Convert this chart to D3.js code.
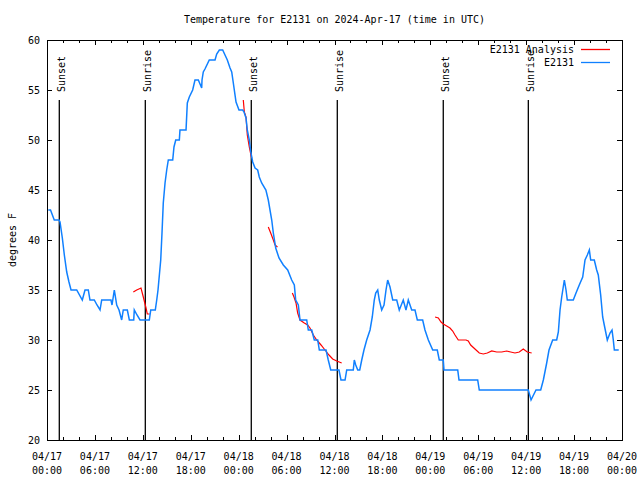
<!DOCTYPE html>
<html><head><meta charset="utf-8">
<script src="https://cdn.jsdelivr.net/npm/d3@7"></script>
<style>
body{margin:0;background:#fff}
text{font-family:"DejaVu Sans Mono",monospace;font-size:10px;fill:#000}
</style>
</head><body><svg id="c" width="640" height="480"></svg>
<script>
// ---- data (hours since 2024-04-17 00:00 UTC, degrees F) ----
const obsHours = [0.16,0.44,0.91,1.50,1.63,1.92,2.17,2.47,2.75,3.01,3.72,4.42,4.76,5.17,5.38,5.92,6.26,6.64,6.85,8.01,8.14,8.43,8.73,9.02,9.35,9.55,10.06,10.31,10.86,10.93,11.27,11.65,12.81,12.99,13.56,13.74,13.90,14.24,14.40,14.56,14.78,14.99,15.19,15.74,15.90,16.12,16.57,16.65,17.41,17.57,17.82,18.24,18.53,18.95,19.37,19.41,19.57,19.78,20.32,21.04,21.25,21.58,22.00,22.29,22.58,22.92,23.13,23.33,23.67,24.04,24.51,24.67,24.92,25.08,25.33,25.54,25.76,26.05,26.38,26.58,26.88,27.41,27.71,28.14,28.34,28.64,29.05,29.59,30.14,30.64,30.97,31.14,31.47,31.68,32.52,32.72,33.15,33.47,33.90,34.10,34.94,35.22,35.53,36.56,36.81,37.32,37.53,38.35,38.48,38.66,38.91,39.16,39.41,39.69,40.03,40.45,40.73,40.98,41.16,41.41,41.61,41.91,42.20,42.45,42.66,42.95,43.29,43.79,44.11,44.61,44.95,45.24,45.67,46.08,46.37,47.04,47.33,47.75,48.30,48.87,49.12,49.62,49.71,51.43,51.59,53.93,54.13,60.27,60.61,61.23,61.82,62.15,62.57,62.86,63.32,63.82,64.03,64.24,64.45,64.78,64.99,65.15,65.90,66.24,66.65,67.08,67.37,67.66,67.91,68.08,68.53,68.83,69.03,69.33,69.58,69.78,70.16,70.50,70.75,70.91,71.04,71.59];
const obsTemps = [43,43,42,42,41.8,40.2,38.5,36.8,35.8,35,35,34,35,35,34,34,33.5,33,34,34,33.5,35,33.5,33,32,33,33,32,32,33,32.5,32,32,33,33,34,35,38,40.7,43.7,45.7,47,48,48,49.3,50,50,51,51,53.7,54.3,55,56,56,55.2,56,56.8,57.1,58,58,58.6,59,59,58.5,58,57.2,56.8,55.7,53.8,53,53,52.8,52.2,51,50,48.7,47.8,47.2,47,46.3,45.7,45,44,42,40.7,39.2,38.2,37.5,37,36,35.5,34,33.5,32,32,31,31,30,30,29,29,28,27,27,26,26,27,27,28,27.5,27,27,28,29,30,31,32.3,34,34.7,35,34,33,33.5,35,36,35.3,34,34,33,34,33,34,33,33,32,32,31,30,29,29,28,28,27,27,26,26,25,25,24,25,25,26,27.7,29,30,30,30.8,33,34.3,36,35,34,34,34.7,35.5,36.3,38,38.5,39,38,38,37,36.5,34.5,32.3,31.5,30,30.7,31,30,29,29];
const anaHours = [10.81,11.23,11.77,12.06,12.40,12.56,12.86,null,
  24.58,24.71,24.92,25.08,25.33,25.54,25.63,null,
  27.71,28.01,28.34,28.55,28.86,null,
  30.72,30.93,31.18,31.39,31.68,32.22,32.64,32.93,33.35,33.77,34.31,34.81,35.31,35.77,36.28,36.90,null,
  48.59,49.00,49.34,49.62,50.05,50.46,50.80,51.09,51.50,51.93,52.47,52.75,53.05,53.59,54.13,54.63,55.13,55.69,56.31,56.94,57.56,58.06,58.60,59.14,59.64,60.14,60.69];
const anaTemps = [34.8,35,35.2,34.3,33.2,32.6,32.6,null,
  54,52.8,52.3,50.5,49.3,48.5,48.2,null,
  41.3,40.7,40,39.5,39.3,null,
  34.7,34.3,33.7,32.7,32,31.7,31.5,31.2,30.5,30,29.5,29,28.5,28.1,27.9,27.7,null,
  32.3,32.2,31.8,31.6,31.4,31.2,30.9,30.5,30,30,30,29.9,29.5,29.1,28.7,28.6,28.7,28.9,28.8,28.8,28.9,28.8,28.7,28.8,29.1,28.8,28.7];
const sunHours = [1.54,12.31,25.58,36.35,49.62,60.27];
const sunLabels = ["Sunset","Sunrise","Sunset","Sunrise","Sunset","Sunrise"];
const yTicks = [20,25,30,35,40,45,50,55,60];
const xTickHours = [0,6,12,18,24,30,36,42,48,54,60,66,72];
const xTickDates = ["04/17","04/17","04/17","04/17","04/18","04/18","04/18","04/18","04/19","04/19","04/19","04/19","04/20"];
const xTickTimes = ["00:00","06:00","12:00","18:00","00:00","06:00","12:00","18:00","00:00","06:00","12:00","18:00","00:00"];
const minorHours = d3.range(0,73,2).filter(h => h % 6 !== 0);
const seriesNames = ["E2131 Analysis","E2131"];
const seriesColors = ["#ff0000","#1080ff"];
const titleText = "Temperature for E2131 on 2024-Apr-17 (time in UTC)";
const yLabel = "degrees F";

// ---- layout ----
const L = 47, R = 622, T = 40, B = 440;
const svg = d3.select("#c");
const x = d3.scaleLinear().domain([0,72]).range([L,R]);
const y = d3.scaleLinear().domain([20,60]).range([B,T]);

// axes with inward ticks
const gB = svg.append("g").attr("transform",`translate(0,${B})`)
  .call(d3.axisBottom(x).tickValues(xTickHours).tickSizeInner(-5).tickSizeOuter(0).tickFormat(""));
const gBm = svg.append("g").attr("transform",`translate(0,${B})`)
  .call(d3.axisBottom(x).tickValues(minorHours).tickSizeInner(-3).tickSizeOuter(0).tickFormat(""));
const gT = svg.append("g").attr("transform",`translate(0,${T})`)
  .call(d3.axisTop(x).tickValues(xTickHours).tickSizeInner(-5).tickSizeOuter(0).tickFormat(""));
const gTm = svg.append("g").attr("transform",`translate(0,${T})`)
  .call(d3.axisTop(x).tickValues(minorHours).tickSizeInner(-3).tickSizeOuter(0).tickFormat(""));
const gL = svg.append("g").attr("transform",`translate(${L},0)`)
  .call(d3.axisLeft(y).tickValues(yTicks).tickSizeInner(-5).tickSizeOuter(0).tickFormat(""));
const gR = svg.append("g").attr("transform",`translate(${R},0)`)
  .call(d3.axisRight(y).tickValues(yTicks).tickSizeInner(-5).tickSizeOuter(0).tickFormat(""));
[gB,gBm,gT,gTm,gL,gR].forEach(g=>{
  g.select(".domain").remove();
  g.selectAll("line").attr("stroke","#000").attr("shape-rendering","crispEdges");
});

// tick labels
svg.append("g").selectAll("text").data(yTicks).join("text")
  .attr("x", L-7).attr("y", d=>y(d)+3.5).attr("text-anchor","end").text(d=>d);
const xl = svg.append("g").selectAll("g").data(xTickHours).join("g");
xl.append("text").attr("x",d=>x(d)).attr("y",B+20).attr("text-anchor","middle").text((d,i)=>xTickDates[i]);
xl.append("text").attr("x",d=>x(d)).attr("y",B+34).attr("text-anchor","middle").text((d,i)=>xTickTimes[i]);

// sunrise/sunset lines
const sunTop = B - 0.85*(B-T), sunText = B - 0.87*(B-T);
svg.append("g").selectAll("line").data(sunHours).join("line")
  .attr("x1",d=>x(d)).attr("x2",d=>x(d)).attr("y1",sunTop).attr("y2",B)
  .attr("stroke","#000").attr("stroke-width",1.3);
svg.append("g").selectAll("text").data(sunHours).join("text")
  .attr("transform",d=>`translate(${x(d)+5.5},${sunText}) rotate(-90)`)
  .text((d,i)=>sunLabels[i]);

// series
const obs = obsHours.map((h,i)=>[h,obsTemps[i]]);
const ana = anaHours.map((h,i)=>[h,anaTemps[i]]);
const line = d3.line().defined(d=>d[0]!=null && d[1]!=null).x(d=>x(d[0])).y(d=>y(d[1]));
svg.append("path").datum(ana).attr("d",line).attr("fill","none")
  .attr("stroke",seriesColors[0]).attr("stroke-width",1.2);
svg.append("path").datum(obs).attr("d",line).attr("fill","none")
  .attr("stroke",seriesColors[1]).attr("stroke-width",1.5).attr("stroke-linejoin","miter");

// border
svg.append("rect").attr("x",L).attr("y",T).attr("width",R-L).attr("height",B-T)
  .attr("fill","none").attr("stroke","#000").attr("stroke-width",1).attr("shape-rendering","crispEdges");

// legend
const leg = svg.append("g").selectAll("g").data(seriesNames).join("g")
  .attr("transform",(d,i)=>`translate(0,${49.5+i*13})`);
leg.append("text").attr("x",574).attr("y",3.5).attr("text-anchor","end").text(d=>d);
leg.append("line").attr("x1",581).attr("x2",610).attr("y1",0).attr("y2",0)
  .attr("stroke",(d,i)=>seriesColors[i]).attr("stroke-width",1.3);

// title & y label
svg.append("text").attr("x",(L+R)/2).attr("y",23).attr("text-anchor","middle").text(titleText);
svg.append("text").attr("transform",`translate(15.5,${(T+B)/2}) rotate(-90)`)
  .attr("text-anchor","middle").text(yLabel);
</script></body></html>
